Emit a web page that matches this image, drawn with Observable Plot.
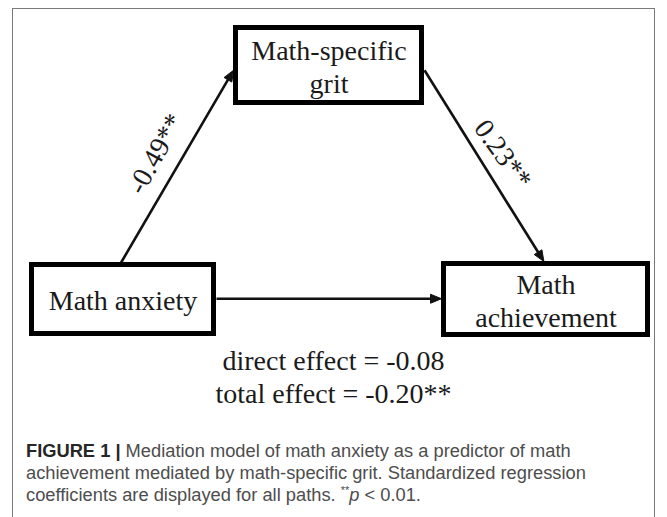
<!DOCTYPE html>
<html>
<head>
<meta charset="utf-8">
<script src="https://cdn.jsdelivr.net/npm/d3@7"></script>
<script src="https://cdn.jsdelivr.net/npm/@observablehq/plot@0.6"></script>
<style>
  html, body { margin: 0; padding: 0; background: #fff; }
  #page { position: relative; width: 667px; height: 517px; overflow: hidden; background: #fff; }
  #frame { position: absolute; left: 12px; top: 8px; width: 643px; height: 540px; border: 1px solid #7a7a7a; border-bottom: none; box-sizing: border-box; }
  #chart { position: absolute; left: 0; top: 0; }
  #caption { position: absolute; left: 26px; top: 440px; width: 625px; font-family: "Liberation Sans", Arial, sans-serif; font-size: 18.3px; line-height: 22px; color: #4d4d4d; white-space: nowrap; }
  #caption b { color: #262626; }
  #caption sup { font-size: 0.6em; vertical-align: 0.6em; line-height: 0; }
</style>
</head>
<body>
<div id="page">
  <div id="frame"></div>
  <div id="chart"></div>
  <div id="caption"></div>
</div>
<script>
// ---- data ----
const nodeNames = ["Math anxiety", "Math-specific grit", "Math achievement"];
const nodeLabels = ["Math anxiety", "Math-specific\ngrit", "Math\nachievement"];
const pathFrom = ["Math anxiety", "Math-specific grit", "Math anxiety"];
const pathTo = ["Math-specific grit", "Math achievement", "Math achievement"];
const pathCoefficients = ["-0.49**", "0.23**", ""];
const effectLabels = ["direct effect = -0.08", "total effect = -0.20**"];
const captionLead = "FIGURE 1 |";
const captionLines = [
  " Mediation model of math anxiety as a predictor of math",
  "achievement mediated by math-specific grit. Standardized regression",
  "coefficients are displayed for all paths. "
];
const captionNote = ["**", "p", " < 0.01."];

// ---- layout (diagram geometry, kept apart from the data) ----
const W = 667, H = 440;
const boxLayout = [
  {x1: 29, x2: 216, y1: 262, y2: 336},
  {x1: 233, x2: 424, y1: 25, y2: 105},
  {x1: 441, x2: 650, y1: 261, y2: 337}
];
const pathLayout = [
  {fromSide: "top", fromT: 0.49, toSide: "left", toT: 0.56, labelDist: 25, tilt: -1.5},
  {fromSide: "right", fromT: 0.56, toSide: "top", toT: 0.49, labelDist: 22, tilt: -4},
  {fromSide: "right", fromT: 0.49, toSide: "left", toT: 0.49, labelDist: 0, tilt: 0}
];
const head = {length: 11, halfWidth: 4.5};
const effectLayout = {x: 333, y0: 369, step: 33};

// ---- derived tables ----
const boxes = nodeNames.map((name, i) => ({name, label: nodeLabels[i], ...boxLayout[i],
  cx: (boxLayout[i].x1 + boxLayout[i].x2) / 2, cy: (boxLayout[i].y1 + boxLayout[i].y2) / 2}));
const byName = new Map(boxes.map(b => [b.name, b]));
function anchor(b, side, t) {
  if (side === "top") return [b.x1 + t * (b.x2 - b.x1), b.y1];
  if (side === "bottom") return [b.x1 + t * (b.x2 - b.x1), b.y2];
  if (side === "left") return [b.x1, b.y1 + t * (b.y2 - b.y1)];
  return [b.x2, b.y1 + t * (b.y2 - b.y1)];
}
const paths = pathFrom.map((f, i) => {
  const L = pathLayout[i];
  const [x1, y1] = anchor(byName.get(f), L.fromSide, L.fromT);
  const [x2, y2] = anchor(byName.get(pathTo[i]), L.toSide, L.toT);
  const dx = x2 - x1, dy = y2 - y1, len = Math.hypot(dx, dy);
  const ux = dx / len, uy = dy / len;
  const nx = uy, ny = -ux;
  const mx = (x1 + x2) / 2, my = (y1 + y2) / 2;
  return {id: i, x1, y1, x2, y2, ux, uy, nx, ny,
    bx: x2 - ux * (head.length - 1), by: y2 - uy * (head.length - 1),
    label: pathCoefficients[i],
    lx: mx + nx * L.labelDist, ly: my + ny * L.labelDist,
    angle: Math.atan2(dy, dx) * 180 / Math.PI + L.tilt};
});
const heads = paths.flatMap(p => {
  const bx = p.x2 - p.ux * head.length, by = p.y2 - p.uy * head.length;
  return [
    {id: p.id, x: p.x2, y: p.y2},
    {id: p.id, x: bx + p.nx * head.halfWidth, y: by + p.ny * head.halfWidth},
    {id: p.id, x: bx - p.nx * head.halfWidth, y: by - p.ny * head.halfWidth},
    {id: p.id, x: p.x2, y: p.y2}
  ];
});
const effects = effectLabels.map((text, i) => ({text, x: effectLayout.x, y: effectLayout.y0 + i * effectLayout.step}));

const serif = "'Liberation Serif', 'Times New Roman', serif";
const ink = "#111";
const chart = Plot.plot({
  width: W, height: H,
  margin: 0,
  x: {type: "linear", domain: [0, W], range: [0, W], axis: null},
  y: {type: "linear", domain: [0, H], range: [0, H], axis: null},
  style: {background: "transparent", overflow: "visible"},
  marks: [
    Plot.link(paths, {x1: "x1", y1: "y1", x2: "bx", y2: "by", stroke: ink, strokeWidth: 2.6}),
    Plot.line(heads, {x: "x", y: "y", z: "id", fill: ink, stroke: ink, strokeWidth: 1, strokeLinejoin: "miter", curve: "linear"}),
    Plot.rect(boxes, {x1: "x1", x2: "x2", y1: "y1", y2: "y2", inset: 2.5, fill: "white", stroke: "#000", strokeWidth: 5}),
    Plot.text(boxes, {x: "cx", y: "cy", text: "label", fontFamily: serif, fontSize: 28, lineHeight: 1.18, lineAnchor: "middle", fill: "#1a1a1a"}),
    Plot.text(paths.filter(p => p.label), {x: "lx", y: "ly", text: "label", rotate: "angle", fontFamily: serif, fontSize: 28, lineAnchor: "middle", fill: "#1a1a1a"}),
    Plot.text(effects, {x: "x", y: "y", text: "text", fontFamily: serif, fontSize: 28, lineAnchor: "bottom", fill: "#1a1a1a"})
  ]
});
document.getElementById("chart").appendChild(chart);

// caption
const cap = document.getElementById("caption");
const b = document.createElement("b"); b.textContent = captionLead; cap.appendChild(b);
captionLines.forEach((line, i) => {
  if (i > 0) cap.appendChild(document.createElement("br"));
  cap.appendChild(document.createTextNode(line));
});
const sup = document.createElement("sup"); sup.textContent = captionNote[0]; cap.appendChild(sup);
const it = document.createElement("i"); it.textContent = captionNote[1]; cap.appendChild(it);
cap.appendChild(document.createTextNode(captionNote[2]));
</script>
</body>
</html>
